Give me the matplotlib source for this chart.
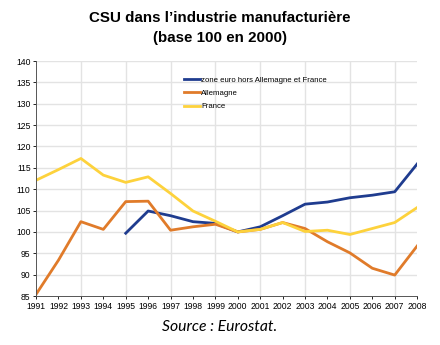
import matplotlib
matplotlib.use("Agg")
import matplotlib.pyplot as plt
import numpy as np

years = list(range(1991, 2009))
zone_years = list(range(1995, 2009))
zone_euro = [99.7, 104.9, 103.8, 102.4, 102.0, 100.0, 101.2, 103.8, 106.5, 107.0, 108.0, 108.6, 109.4, 115.9]
allemagne = [85.4, 93.4, 102.4, 100.6, 107.1, 107.2, 100.4, 101.2, 101.8, 100.0,
             100.6, 102.2, 100.8, 97.7, 95.1, 91.5, 89.9, 96.7]
france = [112.1, 114.6, 117.2, 113.3, 111.6, 112.9, 109.0, 104.9, 102.5, 100.0,
          100.6, 102.2, 100.1, 100.4, 99.4, 100.8, 102.2, 105.7]

plt.rcParams['font.family'] = ['Liberation Sans', 'DejaVu Sans']

fig = plt.figure(figsize=(4.4, 3.45), dpi=100)
ax = fig.add_axes([0.082, 0.142, 0.866, 0.681])

ax.plot(zone_years, zone_euro, color='#1f3c8f', lw=2, label='zone euro hors Allemagne et France')
ax.plot(years, allemagne, color='#e07b2a', lw=2, label='Allemagne')
ax.plot(years, france, color='#fdd23c', lw=2, label='France')

ax.set_xlim(1991, 2008)
ax.set_ylim(85, 140)
ax.set_xticks(years)
ax.set_xticklabels([str(y) for y in years], fontsize=6.2)
ax.set_yticks(range(85, 141, 5))
ax.tick_params(axis='y', labelsize=6.2, length=2, width=0.6, pad=2)
ax.tick_params(axis='x', length=2, width=0.6, pad=2)

for y in range(90, 141, 5):
    ax.axhline(y, color='#e3e3e3', lw=1, zorder=0)
for x in range(1993, 2009, 2):
    ax.axvline(x, color='#e3e3e3', lw=1, zorder=0)

for s in ['top', 'right']:
    ax.spines[s].set_visible(False)
ax.spines['left'].set_color('#555555')
ax.spines['bottom'].set_color('#555555')
ax.spines['left'].set_linewidth(0.7)
ax.spines['bottom'].set_linewidth(0.7)

ax.legend(loc='upper left', bbox_to_anchor=(0.37, 0.965), fontsize=5.6, frameon=False,
          handlelength=2.0, handletextpad=0.2, labelspacing=0.75)

fig.text(0.5, 0.948, "CSU dans l\u2019industrie manufacturière", ha='center', va='center',
         fontsize=10.9, fontweight='bold')
fig.text(0.5, 0.89, "(base 100 en 2000)", ha='center', va='center',
         fontsize=10.9, fontweight='bold')
fig.text(0.5, 0.052, "Source : Eurostat.", ha='center', va='center',
         fontsize=11.3, style='italic', family=['Lato', 'DejaVu Sans'])

fig.savefig('out.png', dpi=100)
